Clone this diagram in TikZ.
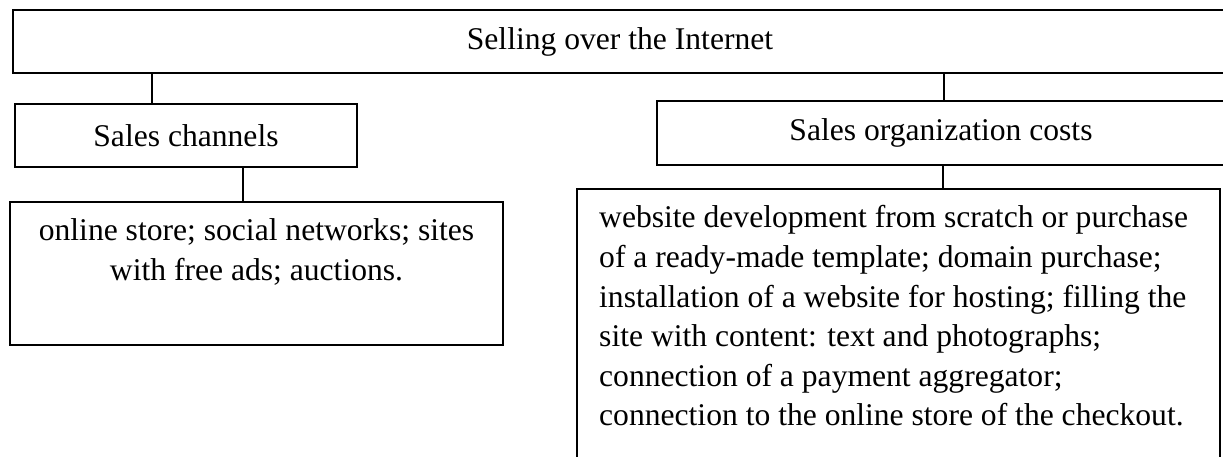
\documentclass[tikz,border=0pt]{standalone}
\usepackage{fontspec}
\setmainfont{Liberation Serif}
\begin{document}
\begin{tikzpicture}[x=1pt,y=-1pt,
  box/.style={draw=black, line width=2pt, rectangle, inner sep=0pt, fill=white},
  txt/.style={inner sep=0pt, font=\fontsize{31.6}{39.6}\selectfont},
  conn/.style={draw=black, line width=2pt}]
\useasboundingbox (0,0) rectangle (1223,457);
\clip (0,0) rectangle (1223,457);
\fill[white] (0,0) rectangle (1223,457);
% top
\node[box, txt, minimum width=1214pt, minimum height=63pt] (top) at (620,41.5) {Selling over the Internet};
% sales channels
\node[box, txt, minimum width=342pt, minimum height=63pt] (sc) at (186,135.5) {Sales channels};
% sales organization costs
\node[box, txt, minimum width=568pt, minimum height=64pt] (org) at (941,133) {Sales organization costs};
% bottom left box
\node[box, minimum width=493pt, minimum height=143pt] (ch) at (256.5,273.5) {};
\node[txt, align=center, anchor=north] (chtxt) at (256.5,218.4) {online store; social networks; sites\\with free ads; auctions.};
% bottom right box
\node[box, minimum width=643pt, minimum height=300pt] (cost) at (898.5,339) {};
\node[txt, align=left, anchor=north west] (costtxt) at (599,205.4) {website development from scratch or purchase\\of a ready-made template; domain purchase;\\installation of a website for hosting; filling the\\site with content: text and photographs;\\connection of a payment aggregator;\\connection to the online store of the checkout.};
% connectors
\draw[conn] ([xshift=-34pt]sc.north) -- ([xshift=-34pt]sc.north |- top.south);
\draw[conn] ([xshift=57pt]sc.south) -- ([xshift=57pt]sc.south |- ch.north);
\draw[conn] ([xshift=3pt]org.north) -- ([xshift=3pt]org.north |- top.south);
\draw[conn] ([xshift=2pt]org.south) -- ([xshift=2pt]org.south |- cost.north);
\end{tikzpicture}
\end{document}
